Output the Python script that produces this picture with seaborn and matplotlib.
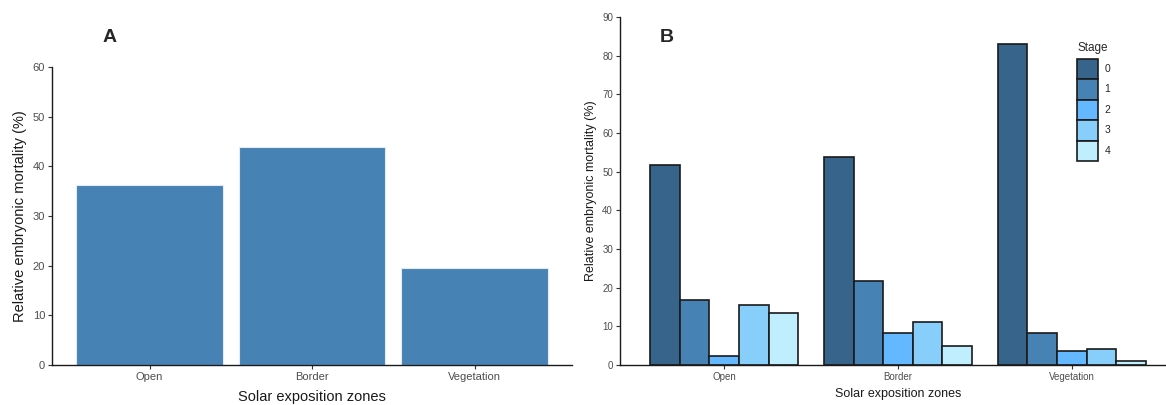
import numpy as np
import pandas as pd
import seaborn as sns
import matplotlib.pyplot as plt

# Data
zones = ["Open", "Border", "Vegetation"]
total_mortality = [36.3, 43.9, 19.6]

stages = ["0", "1", "2", "3", "4"]
stage0 = [51.8, 53.7, 83.0]
stage1 = [16.9, 21.6, 8.3]
stage2 = [2.3, 8.4, 3.7]
stage3 = [15.6, 11.2, 4.2]
stage4 = [13.4, 4.9, 1.1]

stage_colors = ["#36648B", "#4682B4", "#63B8FF", "#87CEFA", "#BFEFFF"]

df_a = pd.DataFrame({"zone": zones, "mortality": total_mortality})
df_b = pd.DataFrame({
    "zone": zones * len(stages),
    "stage": [s for s in stages for _ in zones],
    "mortality": stage0 + stage1 + stage2 + stage3 + stage4,
})

sns.set_theme(style="ticks")
plt.rcParams["font.family"] = ["Liberation Sans", "DejaVu Sans"]

W, H = 1166, 405
fig = plt.figure(figsize=(W / 100, H / 100), dpi=100)
axA = fig.add_axes([52 / W, 40 / H, 520 / W, 298 / H])
axB = fig.add_axes([620 / W, 40 / H, 556 / W, 348 / H])

# Panel A: overall mortality per zone
sns.barplot(data=df_a, x="zone", y="mortality", order=zones, color="#4682B4",
            width=0.9, edgecolor="#E3ECF5", linewidth=0.8, saturation=1, ax=axA)

# Panel B: mortality by developmental stage
sns.barplot(data=df_b, x="zone", y="mortality", hue="stage", order=zones,
            hue_order=stages, palette=stage_colors, width=0.85,
            edgecolor="#1A1A1A", linewidth=1.2, saturation=1, ax=axB)


def style_axis(ax, ymax, tick_size, label_size, xpad):
    sns.despine(ax=ax)
    for side in ("left", "bottom"):
        ax.spines[side].set_color("#1A1A1A")
        ax.spines[side].set_linewidth(1.0)
    ax.set_xlim(-0.6, 2.6)
    ax.set_ylim(0, ymax)
    ax.set_yticks(np.arange(0, ymax + 1, 10))
    ax.tick_params(axis="both", which="major", length=3, width=0.8,
                   color="#333333", labelcolor="#4D4D4D",
                   labelsize=tick_size, bottom=True, left=True, pad=2)
    ax.set_xlabel("Solar exposition zones", fontsize=label_size,
                  color="#1A1A1A", labelpad=xpad)
    ax.set_ylabel("Relative embryonic mortality (%)", fontsize=label_size,
                  color="#1A1A1A", labelpad=4)


style_axis(axA, 60, 8, 10.5, 6)
style_axis(axB, 90, 7, 9, 4)

sns.move_legend(axB, "upper left", bbox_to_anchor=(1068 / W, 1 - 33 / H),
                bbox_transform=fig.transFigure, title="Stage", frameon=False,
                handlelength=2.0, handleheight=2.65, labelspacing=0,
                handletextpad=0.6, fontsize=7.5, title_fontsize=8.5,
                alignment="left")
# small gap between the legend title and the colour keys
axB.get_legend()._legend_box.sep = 3

fig.text(110 / W, 1 - 37 / H, "A", fontsize=14, fontweight="bold",
         ha="center", va="center")
fig.text(667 / W, 1 - 37 / H, "B", fontsize=14, fontweight="bold",
         ha="center", va="center")

fig.savefig("out.png", dpi=100)
